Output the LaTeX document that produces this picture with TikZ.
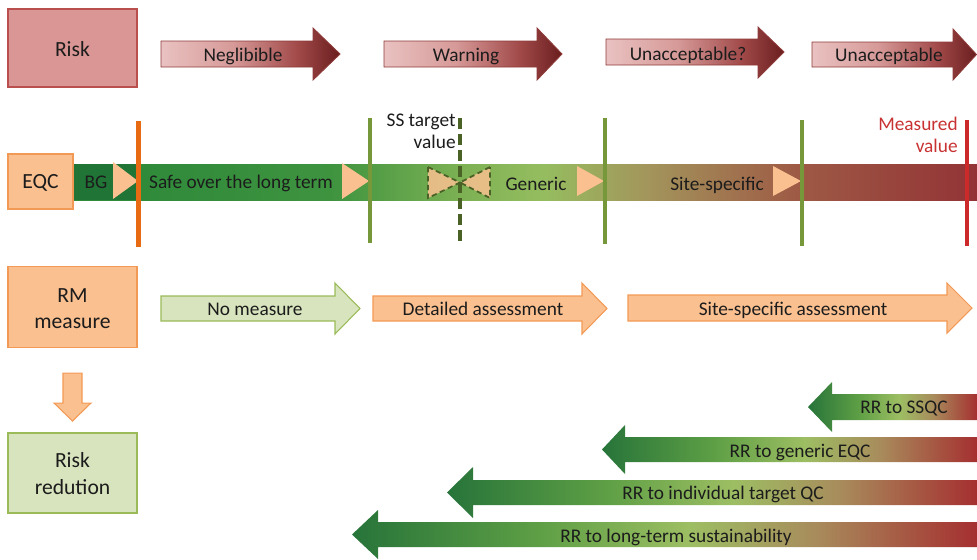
\documentclass[tikz,border=0pt]{standalone}
\usepackage{fontspec}
\setmainfont{Carlito}
\usetikzlibrary{calc}

% palette
\definecolor{txt}{HTML}{1C1C1C}
\definecolor{riskfill}{HTML}{D99694}
\definecolor{riskedge}{HTML}{B9504D}
\definecolor{rk1}{HTML}{E9C2C1}
\definecolor{rk2}{HTML}{D69A98}
\definecolor{rk3}{HTML}{A24A4A}
\definecolor{rk4}{HTML}{6A1D1E}
\definecolor{rkedge}{HTML}{8E3A38}
\definecolor{orfill}{HTML}{FAC090}
\definecolor{oredge}{HTML}{F29A55}
\definecolor{orline}{HTML}{E86A12}
\definecolor{gnfill}{HTML}{D7E4BD}
\definecolor{gnedge}{HTML}{9BBB59}
\definecolor{gnline}{HTML}{77983A}
\definecolor{gndash}{HTML}{4A6226}
\definecolor{redline}{HTML}{CC2A2A}
\definecolor{redtext}{HTML}{C83232}
\definecolor{bgdark}{HTML}{1F7436}
\definecolor{eq1}{HTML}{2F8A3A}
\definecolor{eq2}{HTML}{3E933F}
\definecolor{eq3}{HTML}{7DB154}
\definecolor{eq4}{HTML}{95BD5F}
\definecolor{eq5}{HTML}{A3975C}
\definecolor{eq6}{HTML}{9E5A45}
\definecolor{eq7}{HTML}{933336}
\definecolor{rr1}{HTML}{27743A}
\definecolor{rr2}{HTML}{5E9F45}
\definecolor{rr3}{HTML}{9DBE63}
\definecolor{rr4}{HTML}{A88C5C}
\definecolor{rr5}{HTML}{A52F30}

% horizontal colour ramps (path bounding box maps to 25bp..75bp)
\pgfdeclarehorizontalshading{riskshade}{100bp}{color(0bp)=(rk1); color(25bp)=(rk1); color(45bp)=(rk2); color(63bp)=(rk3); color(75bp)=(rk4); color(100bp)=(rk4)}
\pgfdeclarehorizontalshading{eqcshade}{100bp}{color(0bp)=(eq1); color(25bp)=(eq1); color(28.7bp)=(eq1); color(39.2bp)=(eq2); color(46.5bp)=(eq3); color(51bp)=(eq4); color(56.5bp)=(eq5); color(65bp)=(eq6); color(75bp)=(eq7); color(100bp)=(eq7)}
\pgfdeclarehorizontalshading{rrshade}{100bp}{color(0bp)=(rr1); color(25bp)=(rr1); color(40bp)=(rr2); color(52bp)=(rr3); color(62bp)=(rr4); color(75bp)=(rr5); color(100bp)=(rr5)}

\tikzset{
  lbl/.style={font=\fontsize{11}{12.5}\selectfont, text=txt, inner sep=0pt, anchor=base},
  boxlbl/.style={font=\fontsize{12.3}{15}\selectfont, text=txt, inner sep=0pt, anchor=base},
  riskbox/.style={draw=riskedge, fill=riskfill, line width=0.6pt, minimum width=2.58cm, minimum height=1.56cm, inner sep=0pt},
  orbox/.style={draw=oredge, fill=orfill, line width=0.6pt, inner sep=0pt},
  gnbox/.style={draw=gnedge, fill=gnfill, line width=0.6pt, inner sep=0pt},
  riskarrow/.style={shade, shading=riskshade, draw=rkedge, line width=0.5pt},
  orarrow/.style={fill=orfill, draw=oredge, line width=0.6pt},
  gnarrow/.style={fill=gnfill, draw=gnedge, line width=0.6pt},
  rrarrow/.style={shade, shading=rrshade},
  tri/.style={fill=orfill},
  dashtri/.style={fill=orfill, fill opacity=0.85, draw=gndash, line width=1pt, dash pattern=on 3pt off 2pt},
  mark line/.style={line width=2.3pt},
}

\begin{document}
\begin{tikzpicture}[x=0.02cm, y=-0.02cm]
\useasboundingbox (0,0) rectangle (977,559);

% ---------- Risk row ----------
\node[riskbox] (risk) at (72.5,48) {};
\node[boxlbl] (risklbl) at (72.5,56) {Risk};

\path[riskarrow] (161,41) -- (313,41) -- (313,28) -- (340,54) -- (313,80) -- (313,67) -- (161,67) -- cycle;
\path[riskarrow] (384,41) -- (537,41) -- (537,28) -- (562,54) -- (537,80) -- (537,67) -- (384,67) -- cycle;
\path[riskarrow] (606,39) -- (758,39) -- (758,27) -- (784,52) -- (758,78) -- (758,65) -- (606,65) -- cycle;
\path[riskarrow] (812,42) -- (953,42) -- (953,29) -- (976.5,54.5) -- (953,80) -- (953,67) -- (812,67) -- cycle;
\node[lbl] (neg) at (243,61) {Neglibible};
\node[lbl] (warn) at (466,61) {Warning};
\node[lbl] (unacq) at (688,60) {Unacceptable?};
\node[lbl] (unac) at (889,61) {Unacceptable};

% ---------- EQC row ----------
\path[shade, shading=eqcshade] (73,164) rectangle (977,200);
\fill[bgdark] (73,164) rectangle (139,200);
\node[orbox, minimum width=1.3cm, minimum height=1.1cm] (eqc) at (40.5,181.5) {};
\node[boxlbl] (eqclbl) at (40.5,188) {EQC};

% class boundaries
\path[tri] (113,162) -- (138,181) -- (113,199) -- cycle;
\path[tri] (342,163) -- (369,181) -- (342,199) -- cycle;
\path[tri] (577,166) -- (604,181) -- (577,196) -- cycle;
\path[tri] (773,166) -- (801,181) -- (773,196) -- cycle;
\path[dashtri] (428,167) -- (460,182.5) -- (428,198) -- cycle;
\path[dashtri] (490,167) -- (460,182.5) -- (490,198) -- cycle;

\draw[mark line, orline] (138.5,121) -- (138.5,247);
\draw[mark line, gnline] (370,118) -- (370,243);
\draw[line width=2.8pt, gndash, dash pattern=on 6.5pt off 2.6pt] (460,118) -- (460,243);
\draw[mark line, gnline] (605,118) -- (605,244);
\draw[mark line, gnline] (802,120) -- (802,246);
\draw[mark line, redline] (967,120) -- (967,246);

\node[lbl] (bg) at (96,188) {BG};
\node[lbl] (safe) at (241,188) {Safe over the long term};
\node[lbl] (gen) at (536,190) {Generic};
\node[lbl] (site) at (717,190) {Site-specific};
\node[lbl, anchor=base east] (ss1) at (456,126) {SS target};
\node[lbl, anchor=base east] (ss2) at (456,148) {value};
\node[lbl, anchor=base east, text=redtext] (mv1) at (958,130) {Measured};
\node[lbl, anchor=base east, text=redtext] (mv2) at (958,152) {value};

% ---------- RM measure row ----------
\node[orbox, minimum width=2.58cm, minimum height=1.62cm] (rm) at (72.5,307) {};
\node[boxlbl] (rm1) at (72.5,302) {RM};
\node[boxlbl] (rm2) at (72.5,328) {measure};

\path[gnarrow] (161,296) -- (335,296) -- (335,283) -- (360,308.5) -- (335,334) -- (335,321) -- (161,321) -- cycle;
\path[orarrow] (373,296) -- (582,296) -- (582,283) -- (607,308.5) -- (582,334) -- (582,321) -- (373,321) -- cycle;
\path[orarrow] (628,295) -- (947,295) -- (947,283) -- (972,308) -- (947,333) -- (947,321) -- (628,321) -- cycle;
\node[lbl] (nomeas) at (255,315) {No measure};
\node[lbl] (det) at (483,315) {Detailed assessment};
\node[lbl] (ssa) at (793,315) {Site-specific assessment};

% ---------- Risk reduction row ----------
\path[orarrow] ($(rm.south)+(-9.5,25)$) -- ++(19,0) -- ++(0,30) -- ++(9,0) -- ($(rm.south)+(0,73)$) -- ($(rm.south)+(-18.5,55)$) -- ++(9,0) -- cycle;

\node[gnbox, minimum width=2.58cm, minimum height=1.6cm] (rred) at (72.5,473) {};
\node[boxlbl] (rred1) at (72.5,467) {Risk};
\node[boxlbl] (rred2) at (72.5,494) {redution};

\path[rrarrow] (808,407) -- (832,382) -- (832,394) -- (977,394) -- (977,420) -- (832,420) -- (832,432) -- cycle;
\path[rrarrow] (602,449.5) -- (625,425) -- (625,437) -- (977,437) -- (977,462) -- (625,462) -- (625,474) -- cycle;
\path[rrarrow] (447,492.5) -- (473,467) -- (473,480) -- (977,480) -- (977,505) -- (473,505) -- (473,518) -- cycle;
\path[rrarrow] (352,534.5) -- (378,510) -- (378,522) -- (977,522) -- (977,547) -- (378,547) -- (378,559) -- cycle;
\node[lbl] (rr1) at (904,413) {RR to SSQC};
\node[lbl] (rr2) at (800,457) {RR to generic EQC};
\node[lbl] (rr3) at (723,499) {RR to individual target QC};
\node[lbl] (rr4) at (676,542) {RR to long-term sustainability};
\end{tikzpicture}
\end{document}
